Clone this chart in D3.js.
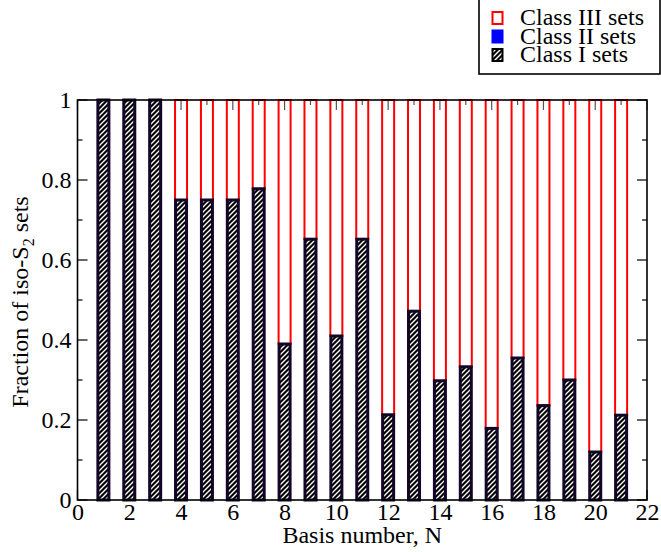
<!DOCTYPE html>
<html><head><meta charset="utf-8">
<script src="https://cdn.jsdelivr.net/npm/d3@7"></script>
<style>body{margin:0;background:#fff}svg{display:block}</style>
</head><body>
<svg id="c" width="661" height="552"></svg>
<script>
const basisN = [1,2,3,4,5,6,7,8,9,10,11,12,13,14,15,16,17,18,19,20,21];
const classI = [1,1,1,0.75,0.75,0.75,0.778,0.39,0.652,0.41,0.652,0.213,0.472,0.298,0.333,0.179,0.355,0.236,0.3,0.12,0.212];
const classII = [0,0,0,0,0,0,0,0,0,0,0,0,0,0,0,0,0,0,0,0,0];
const classIII = classI.map((v,i)=>+(1 - v - classII[i]).toFixed(3));
const xTicks = [0,2,4,6,8,10,12,14,16,18,20,22];
const yTicks = [0,0.2,0.4,0.6,0.8,1];
const legendLabels = ["Class III sets","Class II sets","Class I sets"];

const FONT = "'Liberation Serif', Tinos, 'Times New Roman', 'DejaVu Serif', serif";
const FS = 24;
const svg = d3.select("#c");
const x = d3.scaleLinear().domain([0,22]).range([77.5,647]);
const y = d3.scaleLinear().domain([0,1]).range([500,100]);
const barW = 14;

const defs = svg.append("defs");
const pat = defs.append("pattern").attr("id","hatch").attr("patternUnits","userSpaceOnUse")
  .attr("width",5).attr("height",5);
pat.append("rect").attr("width",5).attr("height",5).attr("fill","#000");
pat.append("path").attr("d","M-1,1 l2,-2 M0,5 l5,-5 M4,6 l2,-2").attr("stroke","#fff").attr("stroke-width",1.4);

const fmt = d => d===0 ? "0" : (d===1 ? "1" : d3.format(".1f")(d));

const g = svg.append("g");
const minorX = d3.range(0,23,1), minorY = d3.range(0,1.0001,0.1);
g.selectAll(".tt").data(minorX).join("line")
  .attr("x1",d=>x(d)).attr("x2",d=>x(d)).attr("y1",y(1)).attr("y2",d=>y(1)+(d%2===0?10:5))
  .attr("stroke","#555").attr("stroke-width",1.2);
g.selectAll(".bt").data(minorX).join("line")
  .attr("x1",d=>x(d)).attr("x2",d=>x(d)).attr("y1",y(0)).attr("y2",d=>y(0)-(d%2===0?10:5))
  .attr("stroke","#000").attr("stroke-width",1.2);
minorY.forEach((d,i)=>{
  const len = i%2===0?10:5;
  g.append("line").attr("x1",x(0)).attr("x2",x(0)+len).attr("y1",y(d)).attr("y2",y(d)).attr("stroke","#000").attr("stroke-width",1.2);
  g.append("line").attr("x1",x(22)).attr("x2",x(22)-len).attr("y1",y(d)).attr("y2",y(d)).attr("stroke","#000").attr("stroke-width",1.2);
});

const bars = svg.append("g");
bars.selectAll(".c3").data(basisN.filter((d,i)=>classIII[i]>0)).join("rect")
  .attr("x",d=>x(d)-barW/2+1).attr("width",barW-2)
  .attr("y",d=>y(1)).attr("height",d=>{const i=d-1;return y(classI[i]+classII[i]) - y(1);})
  .attr("fill","none").attr("stroke","#ff0000").attr("stroke-width",2);
bars.selectAll(".c1").data(basisN).join("rect")
  .attr("x",d=>x(d)-barW/2+1.5).attr("width",barW-3)
  .attr("y",d=>y(classI[d-1])).attr("height",d=>y(0)-y(classI[d-1]))
  .attr("fill","url(#hatch)").attr("stroke","#120528").attr("stroke-width",3);

svg.append("rect").attr("x",x(0)).attr("y",y(1)).attr("width",x(22)-x(0)).attr("height",y(0)-y(1))
  .attr("fill","none").attr("stroke","#000").attr("stroke-width",1.6);

const xa = svg.append("g").attr("transform",`translate(0,${y(0)})`)
  .call(d3.axisBottom(x).tickValues(xTicks).tickSize(0).tickPadding(3).tickFormat(d3.format("d")));
xa.select(".domain").remove();
xa.attr("font-family",FONT).attr("font-size",FS);
xa.selectAll("text").attr("fill","#000");
const ya = svg.append("g").attr("transform",`translate(${x(0)},0)`)
  .call(d3.axisLeft(y).tickValues(yTicks).tickSize(0).tickPadding(6).tickFormat(fmt));
ya.select(".domain").remove();
ya.attr("font-family",FONT).attr("font-size",FS);
ya.selectAll("text").attr("fill","#000");

svg.append("text").attr("x",(x(0)+x(22))/2).attr("y",543).attr("text-anchor","middle")
  .attr("font-family",FONT).attr("font-size",FS).text("Basis number, N");
const yl = svg.append("text").attr("transform","translate(28,302) rotate(-90)").attr("text-anchor","middle")
  .attr("font-family",FONT).attr("font-size",FS);
yl.append("tspan").text("Fraction of iso-S");
yl.append("tspan").attr("font-size",16).attr("dy",6).text("2");
yl.append("tspan").attr("dy",-6).text(" sets");

const lg = svg.append("g");
lg.append("rect").attr("x",479).attr("y",-1).attr("width",181).attr("height",75).attr("fill","#fff").attr("stroke","#000").attr("stroke-width",1.6);
const sw = [{fill:"#fff",stroke:"#ff0000"},{fill:"#0000ff",stroke:"#0000ff"},{fill:"url(#hatch)",stroke:"#000"}];
legendLabels.forEach((t,i)=>{
  const cy = 18 + i*18.5;
  lg.append("rect").attr("x",492.5).attr("y",cy-6).attr("width",10).attr("height",12)
    .attr("fill",sw[i].fill).attr("stroke",sw[i].stroke).attr("stroke-width",2);
  lg.append("text").attr("x",520).attr("y",cy+7).attr("font-family",FONT).attr("font-size",FS).text(t);
});
</script>
</body></html>
